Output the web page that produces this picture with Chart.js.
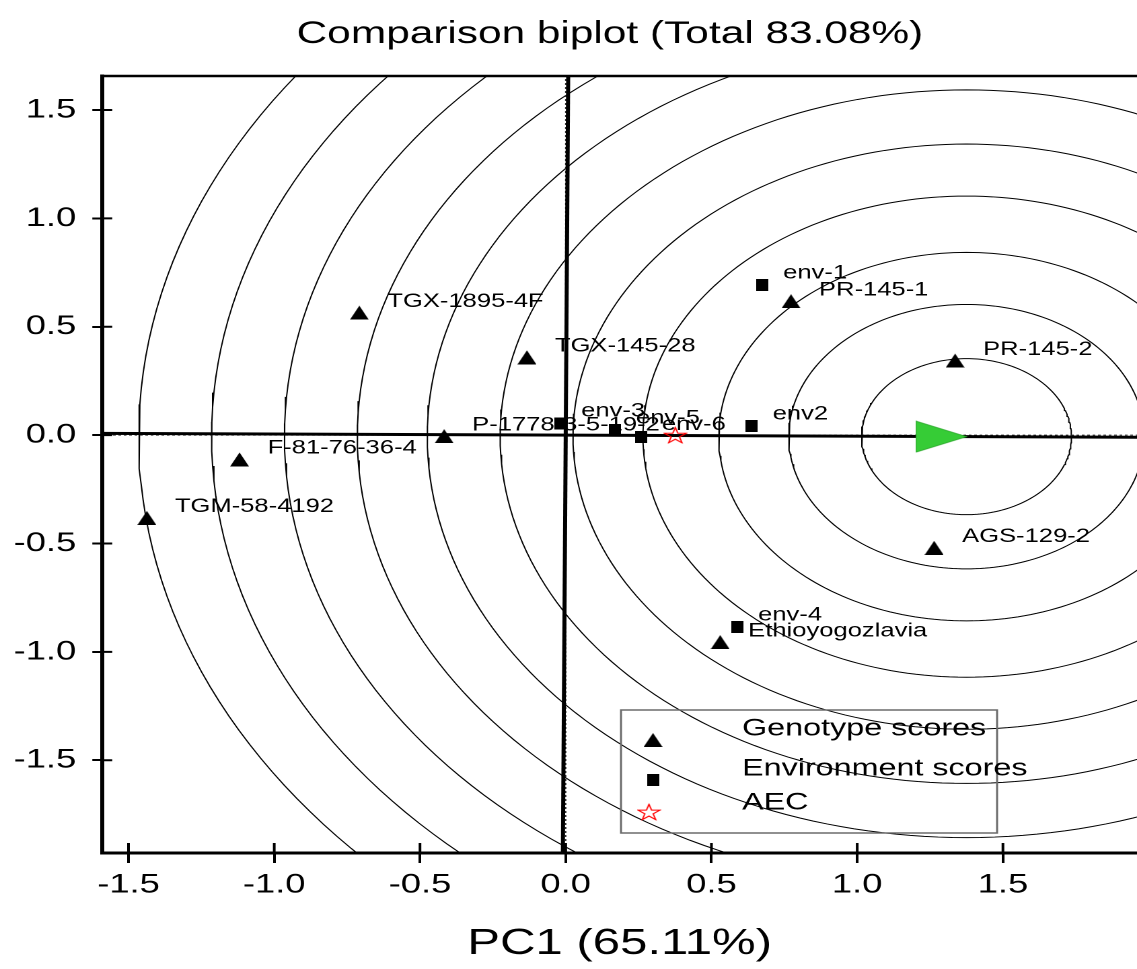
<!DOCTYPE html>
<html lang="en">
<head>
<meta charset="UTF-8">
<title>Comparison biplot</title>
<script src="https://cdn.jsdelivr.net/npm/chart.js@4"></script>
<style>
  html, body { margin: 0; padding: 0; background: #fff; overflow: hidden; }
  #wrap { width: 1137px; height: 969px; overflow: hidden; }
  /* the source picture is stretched sideways, so the chart is drawn square and widened */
  #chart { width: 845px; height: 969px; transform: scaleX(1.34556); transform-origin: 0 0; }
</style>
</head>
<body>
<div id="wrap"><canvas id="chart" width="845" height="969"></canvas></div>
<script>
// Genotype scores (triangles)
const genotypeNames = ['TGX-1895-4F', 'TGX-145-28', 'P-1778-3-5-19-2', 'F-81-76-36-4', 'TGM-58-4192',
                       'PR-145-1', 'PR-145-2', 'AGS-129-2', 'Ethioyogozlavia'];
const genotypePC1 = [-0.708, -0.133, -0.417, -1.119, -1.437, 0.773, 1.336, 1.264, 0.530];
const genotypePC2 = [0.565, 0.359, -0.005, -0.112, -0.382, 0.618, 0.344, -0.520, -0.955];

// Environment scores (squares)
const envNames = ['env-1', 'env2', 'env-3', 'env-5', 'env-6', 'env-4'];
const envPC1 = [0.674, 0.638, -0.019, 0.169, 0.258, 0.588];
const envPC2 = [0.692, 0.041, 0.054, 0.023, -0.008, -0.886];

// average environment point and ideal genotype (centre of the circles)
const aecPoint = [0.376, 0.0];
const idealPoint = [1.375, -0.007];
const circleRadii = [0.36, 0.61, 0.85, 1.11, 1.35, 1.60, 1.85, 2.09, 2.34, 2.59, 2.84];

// axes
const xMin = -1.59, xMax = 1.96, yMin = -1.928, yMax = 1.657;
const xTicks = [-1.5, -1.0, -0.5, 0.0, 0.5, 1.0, 1.5];
const yTicks = [-1.5, -1.0, -0.5, 0.0, 0.5, 1.0, 1.5];

const chartTitle = 'Comparison biplot (Total 83.08%)';
const xTitle = 'PC1 (65.11%)';

const FONT = "'Liberation Sans', Arial, sans-serif";

// marker pictures, drawn at 2x and shown at their css size
function makeImage(w, h, draw) {
  const c = document.createElement('canvas');
  c.width = w * 2; c.height = h * 2;
  const g = c.getContext('2d');
  g.scale(2, 2);
  draw(g);
  return new Promise(resolve => {
    const img = new Image();
    img.onload = () => { img.width = w; img.height = h; resolve(img); };
    img.src = c.toDataURL();
  });
}

function starPath(g, cx, cy, R) {
  const r = R * 0.382;
  g.beginPath();
  for (let k = 0; k < 10; k++) {
    const rad = (k % 2 === 0) ? R : r;
    const a = -Math.PI / 2 + k * Math.PI / 5;
    const px = cx + rad * Math.cos(a), py = cy + rad * Math.sin(a);
    if (k === 0) g.moveTo(px, py); else g.lineTo(px, py);
  }
  g.closePath();
}

const images = [
  makeImage(14, 14, g => { g.fillStyle = '#000'; g.beginPath(); g.moveTo(0, 14); g.lineTo(14, 14); g.lineTo(7, 0); g.closePath(); g.fill(); }),
  makeImage(9, 12, g => { g.fillStyle = '#000'; g.fillRect(0, 0, 9, 12); }),
  makeImage(18, 17, g => { g.strokeStyle = '#ff0000'; g.lineWidth = 1; starPath(g, 9, 9.3, 8.5); g.stroke(); }),
  makeImage(76, 32, g => {
    g.fillStyle = '#36cc36'; g.strokeStyle = '#2eaa2e'; g.lineWidth = 0.8;
    g.beginPath(); g.moveTo(0.5, 0.5); g.lineTo(38, 16); g.lineTo(0.5, 31.5); g.closePath(); g.fill(); g.stroke();
  })
];

function circlePoints(r) {
  const pts = [];
  for (let k = 0; k <= 240; k++) {
    const a = k / 240 * 2 * Math.PI;
    pts.push({ x: idealPoint[0] + r * Math.cos(a), y: idealPoint[1] + r * Math.sin(a) });
  }
  return pts;
}

// title, placed like the source (a bit right of the canvas centre)
const titlePlugin = {
  id: 'titleText',
  afterDraw(chart, args, opts) {
    const ctx = chart.ctx;
    ctx.save();
    ctx.font = opts.size + 'px ' + FONT;
    ctx.fillStyle = '#000';
    ctx.textAlign = 'center';
    ctx.textBaseline = 'alphabetic';
    ctx.fillText(opts.text, opts.x, opts.y);
    ctx.restore();
  }
};

// names beside the points (drawn under the marks, like the source)
const pointLabels = {
  id: 'pointLabels',
  beforeDatasetsDraw(chart) {
    const ctx = chart.ctx;
    ctx.save();
    ctx.font = '19px ' + FONT;
    ctx.fillStyle = '#000';
    ctx.textAlign = 'left';
    ctx.textBaseline = 'middle';
    chart.data.datasets.forEach((ds, i) => {
      if (!ds.names) return;
      chart.getDatasetMeta(i).data.forEach((pt, j) => {
        ctx.fillText(ds.names[j], pt.x + ds.labelDx, pt.y + ds.labelDy);
      });
    });
    ctx.restore();
  }
};

// top frame line and the inner half of the tick marks
const frame = {
  id: 'frame',
  afterDraw(chart) {
    const { ctx, chartArea: a, scales } = chart;
    ctx.save();
    ctx.strokeStyle = '#000';
    ctx.lineWidth = 2.5;
    ctx.beginPath(); ctx.moveTo(a.left, a.top); ctx.lineTo(a.right, a.top); ctx.stroke();
    ctx.lineWidth = 2;
    ctx.beginPath();
    xTicks.forEach(v => { const px = scales.x.getPixelForValue(v); ctx.moveTo(px, a.bottom); ctx.lineTo(px, a.bottom - 10); });
    yTicks.forEach(v => { const py = scales.y.getPixelForValue(v); ctx.moveTo(a.left, py); ctx.lineTo(a.left + 7.4, py); });
    ctx.stroke();
    ctx.restore();
  }
};

// legend box inside the plot
const legendBox = {
  id: 'legendBox',
  afterDraw(chart, args, opts) {
    const ctx = chart.ctx;
    ctx.save();
    ctx.strokeStyle = '#6b6b6b';
    ctx.lineWidth = 1.5;
    ctx.strokeRect(opts.left, opts.top, opts.width, opts.height);
    ctx.font = '24px ' + FONT;
    ctx.fillStyle = '#000';
    ctx.textAlign = 'left';
    ctx.textBaseline = 'middle';
    opts.rows.forEach(row => {
      const ds = chart.data.datasets[row.dataset];
      const img = ds.pointStyle;
      ctx.drawImage(img, row.mx - img.width / 2, row.my - img.height / 2, img.width, img.height);
      ctx.fillText(ds.label, opts.textX, row.ty);
    });
    ctx.restore();
  }
};

Promise.all(images).then(([triImg, sqImg, starImg, arrowImg]) => {
  const slope = idealPoint[1] / idealPoint[0];
  const lineStyle = { showLine: true, pointRadius: 0, borderColor: '#000', tension: 0, fill: false };

  const datasets = [
    {
      label: 'Genotype scores', order: 1, pointStyle: triImg, pointRadius: 7,
      data: genotypePC1.map((x, i) => ({ x, y: genotypePC2[i] })),
      names: genotypeNames, labelDx: 20.8, labelDy: -11
    },
    {
      label: 'Environment scores', order: 0, pointStyle: sqImg, pointRadius: 6,
      data: envPC1.map((x, i) => ({ x, y: envPC2[i] })),
      names: envNames, labelDx: 15.6, labelDy: -12
    },
    { label: 'AEC', order: 0, pointStyle: starImg, pointRadius: 8, data: [{ x: aecPoint[0], y: aecPoint[1] }] },
    { label: 'Ideal', order: 2, pointStyle: arrowImg, pointRadius: 8, data: [{ x: idealPoint[0], y: idealPoint[1] }] },
    // AEC abscissa and ordinate through the origin
    Object.assign({ label: 'AEC abscissa', order: 5, borderWidth: 3,
      data: [{ x: xMin - 0.1, y: slope * (xMin - 0.1) }, { x: xMax + 0.1, y: slope * (xMax + 0.1) }] }, lineStyle),
    Object.assign({ label: 'AEC ordinate', order: 5, borderWidth: 3,
      data: [{ x: -slope * (yMin - 0.1), y: yMin - 0.1 }, { x: -slope * (yMax + 0.1), y: yMax + 0.1 }] }, lineStyle),
    // dotted PC axes
    Object.assign({ label: 'x0', order: 6, borderWidth: 1, borderDash: [2, 2],
      data: [{ x: 0, y: yMin }, { x: 0, y: yMax }] }, lineStyle, { borderColor: '#333' }),
    Object.assign({ label: 'y0', order: 6, borderWidth: 1, borderDash: [2, 2],
      data: [{ x: xMin, y: 0 }, { x: xMax, y: 0 }] }, lineStyle, { borderColor: '#333' })
  ];
  circleRadii.forEach(r => {
    datasets.push(Object.assign({ label: 'circle', order: 7, borderWidth: 1, data: circlePoints(r) }, lineStyle));
  });

  new Chart(document.getElementById('chart'), {
    type: 'scatter',
    data: { datasets },
    plugins: [pointLabels, frame, legendBox, titlePlugin],
    options: {
      responsive: false,
      animation: false,
      devicePixelRatio: 2,
      events: [],
      layout: { autoPadding: false, padding: { top: 76, left: 0, right: 0, bottom: 0 } },
      plugins: {
        legend: { display: false },
        tooltip: { enabled: false },
        title: { display: false },
        titleText: { text: chartTitle, size: 31.5, x: 453.3, y: 43 },
        legendBox: {
          left: 461.5, top: 710, width: 279.5, height: 123, textX: 551.5,
          rows: [
            { dataset: 0, mx: 485.3, my: 740, ty: 729 },
            { dataset: 1, mx: 485.3, my: 780, ty: 769 },
            { dataset: 2, mx: 482.3, my: 812, ty: 803 }
          ]
        }
      },
      scales: {
        x: {
          type: 'linear', position: 'bottom', min: xMin, max: xMax,
          afterBuildTicks: s => { s.ticks = xTicks.map(v => ({ value: v })); },
          afterFit: s => { s.height = 116; s.paddingLeft = 0; s.paddingRight = 0; },
          ticks: { color: '#000', font: { family: FONT, size: 27 }, padding: 6, maxRotation: 0, autoSkip: false,
                   callback: v => v.toFixed(1) },
          grid: { drawOnChartArea: false, drawTicks: true, tickLength: 10, tickWidth: 2, tickColor: '#000', color: '#000' },
          border: { display: true, width: 3, color: '#000' },
          title: { display: true, text: xTitle, color: '#000',
                   font: { family: FONT, size: 36.5, lineHeight: 1.2 }, padding: { top: 0, bottom: 3 } }
        },
        y: {
          type: 'linear', position: 'left', min: yMin, max: yMax,
          afterBuildTicks: s => { s.ticks = yTicks.map(v => ({ value: v })); },
          afterFit: s => { s.width = 76; s.paddingTop = 0; s.paddingBottom = 0; },
          ticks: { color: '#000', font: { family: FONT, size: 27 }, padding: 12, autoSkip: false,
                   callback: v => v.toFixed(1) },
          grid: { drawOnChartArea: false, drawTicks: true, tickLength: 7.4, tickWidth: 2, tickColor: '#000', color: '#000' },
          border: { display: true, width: 3, color: '#000' }
        }
      }
    }
  });
});
</script>
</body>
</html>
